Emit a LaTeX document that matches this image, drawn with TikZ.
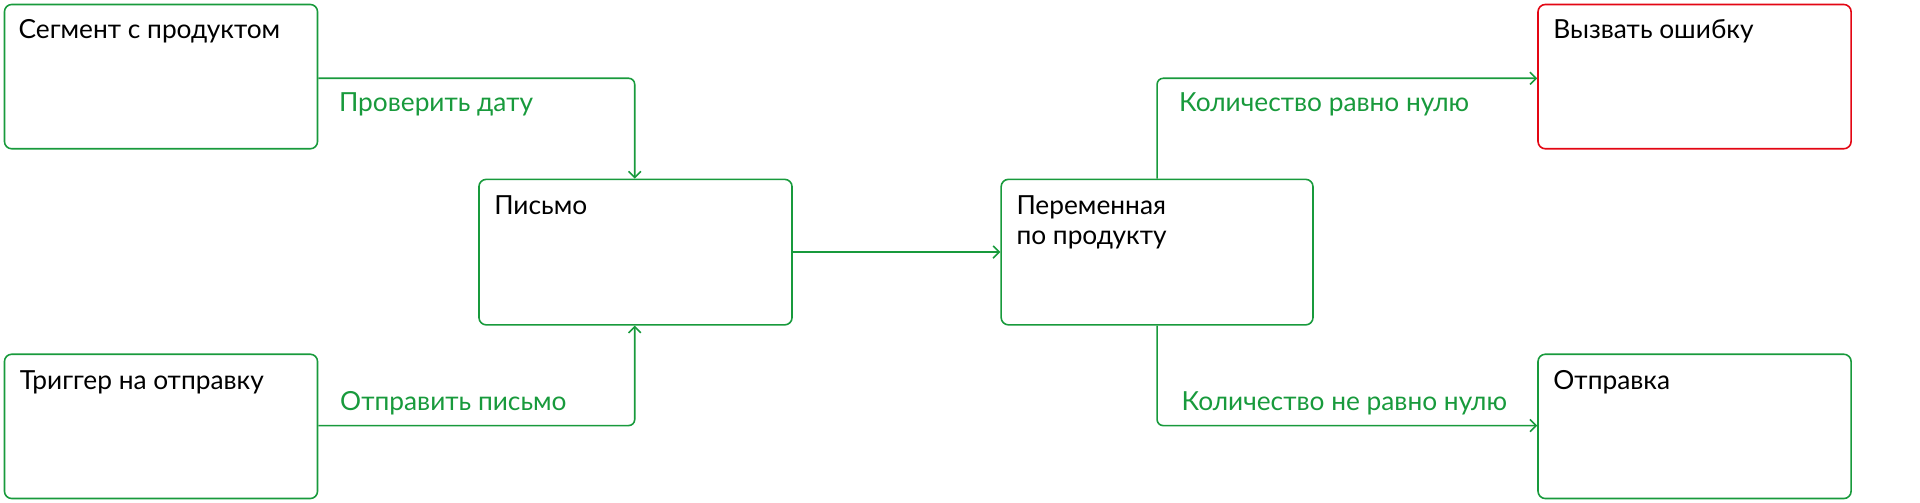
\documentclass[tikz,border=0pt]{standalone}
\usepackage{fontspec}
\setmainfont{Lato}
\usetikzlibrary{arrows.meta}
\definecolor{gr}{HTML}{189A3C}
\definecolor{rd}{HTML}{E30613}
\begin{document}
\begin{tikzpicture}[x=1pt,y=-1pt,
  box/.style={draw=gr,line width=1.3pt,rounded corners=6pt},
  txt/.style={anchor=north west,font=\fontsize{21.5}{24}\selectfont,align=left,inner sep=0pt},
  lbl/.style={anchor=west,font=\fontsize{21.5}{24}\selectfont,text=gr,inner sep=0pt},
  conn/.style={draw=gr,line width=1.3pt,rounded corners=5pt,-{Straight Barb[length=5pt,width=10pt]}}]
\useasboundingbox (0,0) rectangle (1570,410.5);
\node[box,minimum width=256pt,minimum height=118pt,anchor=north west] (A) at (3,3) {};
\node[box,minimum width=256pt,minimum height=118pt,anchor=north west] (B) at (3,289) {};
\node[box,minimum width=256pt,minimum height=119pt,anchor=north west] (C) at (391,146) {};
\node[box,minimum width=255pt,minimum height=119pt,anchor=north west] (D) at (818,146) {};
\node[box,draw=rd,minimum width=256pt,minimum height=118pt,anchor=north west] (E) at (1257,3) {};
\node[box,minimum width=256pt,minimum height=118pt,anchor=north west] (F) at (1257,289) {};
\node[txt] (tA) at (15,16) {Сегмент с продуктом};
\node[txt] (tB) at (16,303) {Триггер на отправку};
\node[txt] (tC) at (404,160) {Письмо};
\node[txt] (tD) at (831,160) {Переменная\\по продукту};
\node[txt] (tE) at (1270,16) {Вызвать ошибку};
\node[txt] (tF) at (1270,303) {Отправка};
\coordinate (a1) at (A.east |- 0,64);
\coordinate (b1) at (B.east |- 0,348);
\draw[conn] (a1) -| (519,0 |- C.north);
\draw[conn] (b1) -| (519,0 |- C.south);
\draw[conn] (C.east) -- (D.west);
\draw[conn] (D.north) |- (E.west |- 0,64);
\draw[conn] (D.south) |- (F.west |- 0,348);
\node[lbl] (l1) at (277,85) {Проверить дату};
\node[lbl] (l2) at (278,330) {Отправить письмо};
\node[lbl] (l3) at (964,85) {Количество равно нулю};
\node[lbl] (l4) at (966,330) {Количество не равно нулю};
\end{tikzpicture}
\end{document}
